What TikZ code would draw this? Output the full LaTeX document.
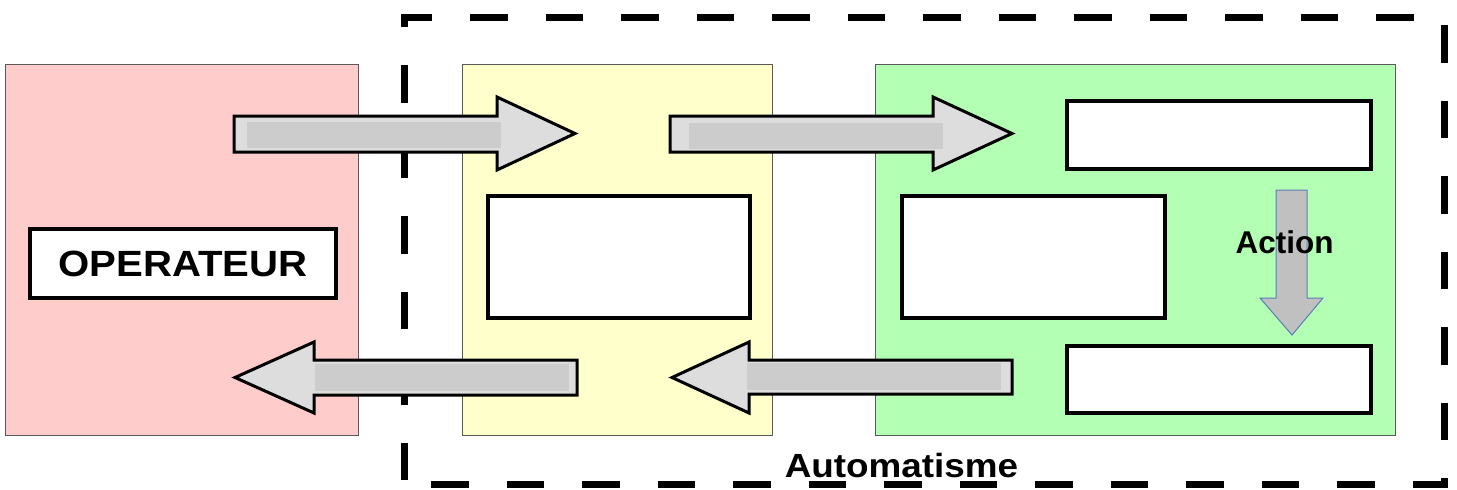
\documentclass[tikz,border=0pt]{standalone}
\usepackage{fontspec}
\setmainfont{Liberation Sans}
\newfontfamily\widefont{Liberation Sans}[FakeStretch=1.1]
\definecolor{zpink}{HTML}{FFCCCC}
\definecolor{zyellow}{HTML}{FFFFCC}
\definecolor{zgreen}{HTML}{B3FFB3}
\definecolor{arrowfill}{HTML}{DDDDDD}
\definecolor{barfill}{HTML}{CCCCCC}
\definecolor{actfill}{HTML}{C0C0C0}
\definecolor{actblue}{HTML}{5B7DB8}
\begin{document}
\begin{tikzpicture}[x=1pt,y=-1pt,
  zone/.style={draw=black!65, line width=1.2pt, anchor=north west, inner sep=0pt},
  whitebox/.style={draw=black, line width=4pt, fill=white, anchor=north west, inner sep=0pt},
  blockarrow/.style={draw=black, line width=3pt, fill=arrowfill, line join=miter},
  innerbar/.style={fill=barfill},
  actarrow/.style={draw=actblue, line width=1pt, fill=actfill},
  dashframe/.style={line width=7pt, dash pattern=on 37.5pt off 38pt, dash phase=71.5pt},
  lbl/.style={font=\bfseries, inner sep=0pt}]
\useasboundingbox (0,0) rectangle (1457,490);
% zones
\node[zone, fill=zpink, minimum width=353pt, minimum height=371pt] (op) at (5,64) {};
\node[zone, fill=zyellow, minimum width=310pt, minimum height=371pt] (pc) at (462,64) {};
\node[zone, fill=zgreen, minimum width=520pt, minimum height=371pt] (po) at (875,64) {};
% dashed frame
\draw[dashframe] (404,484) -- (404,17.5) -- (1444,17.5) -- (1444,484) -- cycle;
% white boxes
\node[whitebox, minimum width=306pt, minimum height=69pt] (opbox) at (28,227) {};
\node[whitebox, minimum width=262pt, minimum height=122pt] (pcbox) at (486,194) {};
\node[whitebox, minimum width=263pt, minimum height=122pt] (pobox) at (900,194) {};
\node[whitebox, minimum width=304pt, minimum height=68pt] (potop) at (1065,99) {};
\node[whitebox, minimum width=304pt, minimum height=67pt] (pobot) at (1065,344) {};
% block arrows
\draw[blockarrow] (234,116) -- (497,116) -- (497,97) -- (575,133.5) -- (497,170) -- (497,152) -- (234,152) -- cycle;
\fill[innerbar] (247,122) rectangle (501,148);
\draw[blockarrow] (670,116) -- (933,116) -- (933,97) -- (1012,133.5) -- (933,170) -- (933,152) -- (670,152) -- cycle;
\fill[innerbar] (689,123) rectangle (943,149);
\draw[blockarrow] (577,360) -- (314,360) -- (314,342) -- (235,377.5) -- (314,413) -- (314,395) -- (577,395) -- cycle;
\fill[innerbar] (315,364) rectangle (569,391);
\draw[blockarrow] (1012,360) -- (749,360) -- (749,342) -- (672,377.5) -- (749,413) -- (749,394) -- (1012,394) -- cycle;
\fill[innerbar] (747,363) rectangle (1001,390);
% action arrow
\draw[actarrow] (1276,190) -- (1307,190) -- (1307,298) -- (1323,298) -- (1292,335) -- (1260,298) -- (1276,298) -- cycle;
% texts
\node[lbl, font=\widefont\bfseries\fontsize{36.5}{40}\selectfont] (optxt) at (opbox.center) {OPERATEUR};
\node[lbl, font=\bfseries\fontsize{31.5}{36}\selectfont, anchor=base] (acttxt) at (1284.5,253) {Action};
\node[lbl, font=\widefont\bfseries\fontsize{33.5}{38}\selectfont, anchor=base] (autotxt) at (901.5,477) {Automatisme};
\end{tikzpicture}
\end{document}
